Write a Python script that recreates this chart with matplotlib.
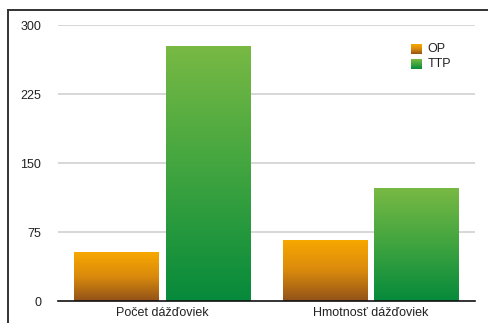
import numpy as np
import matplotlib.pyplot as plt
from matplotlib.colors import LinearSegmentedColormap
from matplotlib.lines import Line2D

plt.rcParams['font.family'] = ['Liberation Sans', 'DejaVu Sans']

categories = ['Počet dážďoviek', 'Hmotnosť dážďoviek']
series_names = ['OP', 'TTP']
op_values = [53, 66]
ttp_values = [277, 122]
yticks = [0, 75, 150, 225, 300]

# farby prechodu (spodok -> vrch)
op_cmap = LinearSegmentedColormap.from_list('op', ['#925219', '#d98a0c', '#f8a800'])
ttp_cmap = LinearSegmentedColormap.from_list('ttp', ['#068a3b', '#3fa43f', '#78b944'])

fig = plt.figure(figsize=(4.88, 3.23), dpi=100)
ax = fig.add_axes([0.1189, 0.0681, 0.8545, 0.8545])

grad = np.linspace(0, 1, 256).reshape(-1, 1)


def gradient_bar(x, h, w, cmap):
    ax.imshow(grad, cmap=cmap, origin='lower', aspect='auto',
              extent=(x - w / 2, x + w / 2, 0, h), zorder=2)


width = 0.405
offset = 0.22
xs = np.arange(len(categories))
for i, x in enumerate(xs):
    gradient_bar(x - offset, op_values[i], width, op_cmap)
    gradient_bar(x + offset, ttp_values[i], width, ttp_cmap)

fs = 9
ax.set_xlim(-0.5, 1.5)
ax.set_ylim(0, 300)
ax.set_yticks(yticks)
ax.set_yticklabels([str(t) for t in yticks], fontsize=fs)
ax.set_xticks(xs)
ax.set_xticklabels(categories, fontsize=fs)
ax.tick_params(axis='both', length=0, colors='#222222')
ax.tick_params(axis='y', pad=12)
ax.tick_params(axis='x', pad=4)

for t in yticks[1:]:
    ax.axhline(t, color='#d4d4d4', linewidth=1.3, zorder=1)

for side in ['top', 'right', 'left']:
    ax.spines[side].set_visible(False)
ax.spines['bottom'].set_color('#111111')
ax.spines['bottom'].set_linewidth(1.2)
ax.spines['bottom'].set_zorder(3)

# legenda
leg_items = [(series_names[0], op_cmap, 0.895), (series_names[1], ttp_cmap, 0.841)]
for name, cmap, y0 in leg_items:
    ax.imshow(grad, cmap=cmap, origin='lower', aspect='auto',
              extent=(0.8465, 0.8705, y0, y0 + 0.036),
              transform=ax.transAxes, zorder=4)
    ax.text(0.886, y0 + 0.018, name, transform=ax.transAxes,
            fontsize=fs, va='center', ha='left', color='#222222')

# rám okolo grafu
fig.add_artist(Line2D([8 / 488, 1], [1 - 10 / 323, 1 - 10 / 323],
                      transform=fig.transFigure, color='#333333', linewidth=1.4))
fig.add_artist(Line2D([8 / 488, 8 / 488], [0, 1 - 10 / 323],
                      transform=fig.transFigure, color='#333333', linewidth=1.4))

fig.savefig('out.png', dpi=100)
